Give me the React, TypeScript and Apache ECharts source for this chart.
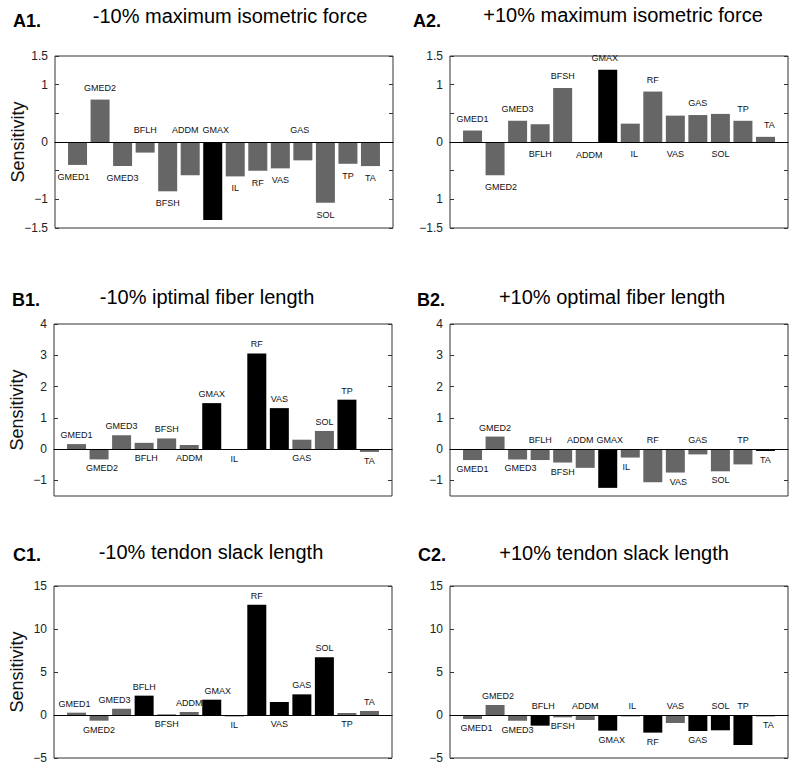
import React, { useEffect, useRef } from 'react';
import * as echarts from 'echarts';

const muscles = ['GMED1', 'GMED2', 'GMED3', 'BFLH', 'BFSH', 'ADDM', 'GMAX', 'IL', 'RF', 'VAS', 'GAS', 'SOL', 'TP', 'TA'];

const a1Values = [-0.4, 0.74, -0.42, -0.185, -0.86, -0.58, -1.36, -0.6, -0.5, -0.46, -0.32, -1.06, -0.38, -0.42];
const a2Values = [0.2, -0.58, 0.37, 0.31, 0.94, -0.01, 1.26, 0.32, 0.88, 0.46, 0.47, 0.49, 0.37, 0.09];
const b1Values = [0.16, -0.33, 0.44, 0.2, 0.34, 0.13, 1.47, -0.02, 3.06, 1.31, 0.3, 0.58, 1.58, -0.09];
const b2Values = [-0.35, 0.4, -0.33, -0.35, -0.43, -0.6, -1.24, -0.27, -1.06, -0.75, -0.17, -0.71, -0.49, -0.06];
const c1Values = [0.27, -0.66, 0.74, 2.25, 0.08, 0.35, 1.78, -0.15, 12.83, 1.51, 2.4, 6.71, 0.23, 0.47];
const c2Values = [-0.47, 1.16, -0.66, -1.24, -0.27, -0.58, -1.82, -0.15, -2.05, -0.93, -1.86, -1.78, -3.49, -0.15];

// 1 = black bar, 0 = gray bar
const a1Dark = [0, 0, 0, 0, 0, 0, 1, 0, 0, 0, 0, 0, 0, 0];
const a2Dark = [0, 0, 0, 0, 0, 0, 1, 0, 0, 0, 0, 0, 0, 0];
const b1Dark = [0, 0, 0, 0, 0, 0, 1, 0, 1, 1, 0, 0, 1, 0];
const b2Dark = [0, 0, 0, 0, 0, 0, 1, 0, 0, 0, 0, 0, 0, 1];
const c1Dark = [0, 0, 0, 1, 0, 0, 1, 1, 1, 1, 1, 1, 0, 0];
const c2Dark = [0, 0, 0, 1, 0, 0, 1, 1, 1, 0, 1, 1, 1, 1];

// label side: t = above the bar's upper edge, b = below its lower edge
const a1Side = 'btbtbttbbbtbbb';
const a2Side = 'tbtbtbtbtbtbtt';
const b1Side = 'tbtbtbtbttbttb';
const b2Side = 'btbtbttbtbtbtb';
const c1Side = 'tbttbttbtbttbt';
const c2Side = 'btbtbtbtbtbttb';

// small horizontal nudges of some labels (px), as in the reference
const a1Nudge: Record<string, number> = { GMED1: -4, ADDM: -5, GMAX: 3, GAS: -3 };
const a2Nudge: Record<string, number> = { GMED2: 6, ADDM: 4, GMAX: -3, IL: 4, TA: 4 };
const b1Nudge: Record<string, number> = { GMED2: 3, BFLH: 2 };
const b2Nudge: Record<string, number> = { GMED3: 3, ADDM: -5, GMAX: 2, IL: -4, VAS: 3 };
const c1Nudge: Record<string, number> = { GMED1: -2, GMED3: -7, GMAX: 6 };
const c2Nudge: Record<string, number> = { GMED1: 4, GMED2: 3, BFLH: 3, GMAX: 4, IL: 2, TA: 3 };

const aTicks = [-1.5, -1, -0.5, 0, 0.5, 1, 1.5];
const aLabels = [-1.5, -1, 0, 1, 1.5];
const bTicks = [-1, 0, 1, 2, 3, 4];
const cTicks = [-5, 0, 5, 10, 15];

const FONT = '"Liberation Sans", Arial, Helvetica, sans-serif';
const GRAY = '#666666';

const fmt = (v: number) => (v < 0 ? '\u2212' + String(Math.abs(v)) : String(v));
const fmtA2 = (v: number) => (v === -1 ? '1' : fmt(v));

const panels = [
  { tag: 'A1.', title: '-10% maximum isometric force', values: a1Values, dark: a1Dark, side: a1Side, nudge: a1Nudge, dist: 7.5, min: -1.5, max: 1.5, ticks: aTicks, labels: aLabels, formatter: fmt, left: 55, top: 56, tagX: 13, tagY: 21, titleX: 230, titleY: 16, ylabel: true },
  { tag: 'A2.', title: '+10% maximum isometric force', values: a2Values, dark: a2Dark, side: a2Side, nudge: a2Nudge, dist: 7.5, min: -1.5, max: 1.5, ticks: aTicks, labels: aLabels, formatter: fmtA2, left: 450, top: 56, tagX: 413, tagY: 21, titleX: 623, titleY: 15, ylabel: false },
  { tag: 'B1.', title: '-10% iptimal fiber length', values: b1Values, dark: b1Dark, side: b1Side, nudge: b1Nudge, dist: 4.5, min: -1.5, max: 4, ticks: bTicks, labels: bTicks, formatter: fmt, left: 54, top: 324, tagX: 12, tagY: 300, titleX: 207, titleY: 297, ylabel: true },
  { tag: 'B2.', title: '+10% optimal fiber length', values: b2Values, dark: b2Dark, side: b2Side, nudge: b2Nudge, dist: 4.5, min: -1.5, max: 4, ticks: bTicks, labels: bTicks, formatter: fmt, left: 450, top: 324, tagX: 417, tagY: 300, titleX: 612, titleY: 297, ylabel: false },
  { tag: 'C1.', title: '-10% tendon slack length', values: c1Values, dark: c1Dark, side: c1Side, nudge: c1Nudge, dist: 4.5, min: -5, max: 15, ticks: cTicks, labels: cTicks, formatter: fmt, left: 54, top: 586, tagX: 13, tagY: 555, titleX: 211, titleY: 552, ylabel: true },
  { tag: 'C2.', title: '+10% tendon slack length', values: c2Values, dark: c2Dark, side: c2Side, nudge: c2Nudge, dist: 4.5, min: -5, max: 15, ticks: cTicks, labels: cTicks, formatter: fmt, left: 450, top: 586, tagX: 418, tagY: 555, titleX: 614, titleY: 553, ylabel: false },
];

export default function App() {
  const ref = useRef<HTMLDivElement>(null);
  useEffect(() => {
    if (!ref.current) return;
    const chart = echarts.init(ref.current, undefined, { renderer: 'svg' });

    const grid: any[] = [];
    const xAxis: any[] = [];
    const yAxis: any[] = [];
    const series: any[] = [];
    const graphic: any[] = [];

    panels.forEach((p, i) => {
      grid.push({
        left: p.left, top: p.top, width: 338, height: 172,
        show: true, borderColor: '#333', borderWidth: 1, backgroundColor: 'transparent',
        containLabel: false, outerBoundsMode: 'none',
      });
      xAxis.push({
        gridIndex: i, type: 'value', min: 0, max: 15, z: 5,
        axisLine: { show: true, onZero: true, lineStyle: { color: '#000', width: 1.2 } },
        axisTick: { show: false }, axisLabel: { show: false }, splitLine: { show: false },
      });
      const tickCfg = { show: true, inside: true, length: 4, customValues: p.ticks, lineStyle: { color: '#333', width: 1 } };
      yAxis.push({
        gridIndex: i, type: 'value', min: p.min, max: p.max, position: 'left',
        axisLine: { show: false }, splitLine: { show: false },
        axisTick: tickCfg,
        axisLabel: { show: true, customValues: p.labels, formatter: p.formatter, fontSize: 12, color: '#222', margin: 7, fontFamily: FONT },
        name: p.ylabel ? 'Sensitivity' : '', nameLocation: 'middle', nameGap: 28, nameMoveOverlap: false,
        nameTextStyle: { fontSize: 18, color: '#111', fontFamily: FONT },
      });
      yAxis.push({
        gridIndex: i, type: 'value', min: p.min, max: p.max, position: 'right',
        axisLine: { show: false }, splitLine: { show: false },
        axisTick: tickCfg, axisLabel: { show: false },
      });
      series.push({
        type: 'bar', xAxisIndex: i, yAxisIndex: 2 * i, barWidth: 19,
        data: p.values.map((v, k) => ({
          value: [k + 1, v],
          itemStyle: { color: p.dark[k] ? '#000000' : GRAY },
          label: {
            position: p.side[k] === 't' ? 'top' : 'bottom',
            offset: [p.nudge[muscles[k]] || 0, 0],
          },
        })),
        label: {
          show: true, distance: p.dist, fontSize: 9, color: '#111', fontFamily: FONT,
          formatter: (params: any) => muscles[params.dataIndex],
        },
      });
      graphic.push({
        type: 'text', x: p.tagX, y: p.tagY,
        style: { text: p.tag, font: `bold 18px ${FONT}`, fill: '#000', textAlign: 'left', textVerticalAlign: 'middle' },
      });
      graphic.push({
        type: 'text', x: p.titleX, y: p.titleY,
        style: { text: p.title, font: `20px ${FONT}`, fill: '#000', textAlign: 'center', textVerticalAlign: 'middle' },
      });
    });

    chart.setOption({
      animation: false,
      backgroundColor: '#ffffff',
      grid, xAxis, yAxis, series, graphic,
    });
    return () => chart.dispose();
  }, []);
  return <div ref={ref} style={{ position: 'absolute', left: 0, top: 0, width: 797, height: 774 }} />;
}
